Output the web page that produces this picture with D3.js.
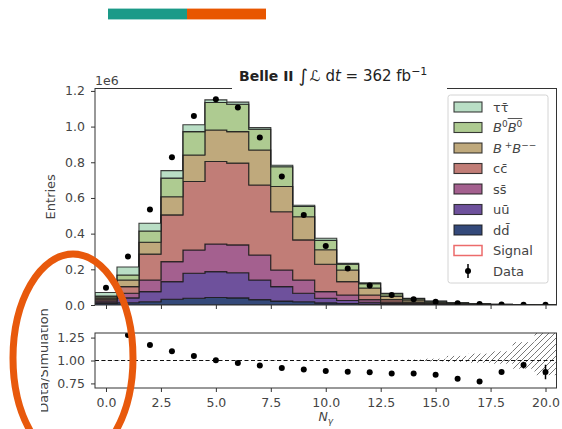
<!DOCTYPE html>
<html>
<head>
<meta charset="utf-8">
<script src="https://cdn.jsdelivr.net/npm/d3@7"></script>
<style>
  html, body { margin: 0; padding: 0; background: #fff; }
  svg { display: block; font-family: "DejaVu Sans", sans-serif; }
</style>
</head>
<body>
<svg id="chart" width="562" height="429"></svg>
<script>
// Photon multiplicity N_gamma, one bin per integer value
const nGamma = d3.range(0, 21);

// Simulated entries per component, in units of 1e6 (stacked bottom -> top)
const ddbar  = [0.008,0.013,0.018,0.032,0.038,0.042,0.040,0.030,0.022,0.018,0.012,0.008,0.005,0.003,0.002,0.001,0.0006,0.0003,0.0002,0.0001,0.00005];
const uubar  = [0.008,0.027,0.057,0.099,0.140,0.145,0.141,0.110,0.081,0.048,0.026,0.017,0.010,0.005,0.003,0.002,0.0010,0.0006,0.0003,0.0001,0.00005];
const ssbar  = [0.008,0.026,0.065,0.112,0.130,0.155,0.156,0.140,0.093,0.074,0.037,0.031,0.015,0.008,0.004,0.002,0.0014,0.0007,0.0004,0.0002,0.0001];
const ccbar  = [0.008,0.037,0.145,0.262,0.384,0.462,0.458,0.393,0.327,0.225,0.153,0.075,0.026,0.014,0.007,0.004,0.0020,0.0012,0.0007,0.0004,0.0002];
const bchg   = [0.008,0.037,0.067,0.102,0.149,0.177,0.177,0.196,0.141,0.130,0.082,0.065,0.039,0.020,0.012,0.007,0.0040,0.0022,0.0012,0.0006,0.0003];
const bneu   = [0.010,0.028,0.063,0.104,0.131,0.154,0.153,0.116,0.111,0.057,0.052,0.032,0.025,0.013,0.008,0.005,0.0035,0.0018,0.0011,0.0005,0.0004];
const tautau = [0.020,0.045,0.043,0.042,0.038,0.015,0.012,0.009,0.008,0.007,0.012,0.006,0.005,0.003,0.002,0.001,0.0005,0.0002,0.0001,0.0001,0.0001];

// Recorded data, in units of 1e6
const data = [0.097,0.272,0.535,0.828,1.060,1.153,1.107,0.939,0.720,0.504,0.331,0.205,0.109,0.0566,0.0326,0.0186,0.0104,0.0054,0.0035,0.0019,0.00105];
// Uncertainty on Data/Simulation
const ratioErr = [0.003,0.003,0.002,0.002,0.002,0.002,0.002,0.002,0.002,0.002,0.003,0.003,0.004,0.005,0.006,0.008,0.010,0.012,0.016,0.036,0.080];
// Simulation statistical band (relative), lower and upper edges
const bandLo = [0.998,0.998,0.998,0.998,0.998,0.998,0.998,0.998,0.998,0.998,0.998,0.997,0.996,0.995,0.993,0.99,0.985,0.975,0.965,0.91,0.84];
const bandHi = [1.002,1.002,1.002,1.002,1.002,1.002,1.002,1.002,1.002,1.002,1.002,1.003,1.004,1.006,1.010,1.02,1.050,1.075,1.100,1.20,1.32];

const componentKeys = ["dd", "uu", "ss", "cc", "bc", "bn", "tt"];
const componentValues = [ddbar, uubar, ssbar, ccbar, bchg, bneu, tautau];
const componentColors = ["#34497a", "#6e519c", "#a4608f", "#c17d77", "#bfa97c", "#aecb91", "#b9dec5"];

const xTicks = [0, 2.5, 5, 7.5, 10, 12.5, 15, 17.5, 20];
const yTicks = [0, 0.2, 0.4, 0.6, 0.8, 1.0, 1.2];
const rTicks = [0.75, 1.0, 1.25];

const svg = d3.select("#chart");
const X0 = 95, X1 = 556.5, MT = 88.5, MB = 305, RT = 333, RB = 388;

const x = d3.scaleLinear().domain([-0.5, 20.5]).range([X0, X1]);
const yMain = d3.scaleLinear().domain([0, 1.2135]).range([MB, MT]);
const yRat = d3.scaleLinear().domain([0.7, 1.3]).range([RB, RT]);

// header strip
svg.append("rect").attr("x", 108).attr("y", 8.6).attr("width", 79).attr("height", 10.8).attr("fill", "#1b9a88");
svg.append("rect").attr("x", 187).attr("y", 8.6).attr("width", 79).attr("height", 10.8).attr("fill", "#e85600");

const defs = svg.append("defs");
defs.append("clipPath").attr("id", "clipMain").append("rect")
  .attr("x", X0).attr("y", MT).attr("width", X1 - X0).attr("height", MB - MT);
defs.append("clipPath").attr("id", "clipRat").append("rect")
  .attr("x", X0).attr("y", RT).attr("width", X1 - X0).attr("height", RB - RT);
defs.append("clipPath").attr("id", "clipLab").append("rect")
  .attr("x", 41).attr("y", 280).attr("width", 60).attr("height", 149);
const pat = defs.append("pattern").attr("id", "hatch").attr("patternUnits", "userSpaceOnUse")
  .attr("width", 6).attr("height", 6);
pat.append("path").attr("d", "M-1,1 l2,-2 M0,6 l6,-6 M5,7 l2,-2")
  .attr("stroke", "#555").attr("stroke-width", 0.8);

// ---- stacked simulation ----
const rows = nGamma.map((n, i) => {
  const r = { n };
  componentKeys.forEach((k, j) => { r[k] = componentValues[j][i]; });
  return r;
});
const stacked = d3.stack().keys(componentKeys)(rows);
const total = rows.map((r, i) => stacked[stacked.length - 1][i][1]);

const area = d3.area()
  .curve(d3.curveStepAfter)
  .x(d => x(d.x))
  .y0(d => yMain(d.y0))
  .y1(d => yMain(d.y1));

const gMain = svg.append("g").attr("clip-path", "url(#clipMain)");
stacked.forEach((s, j) => {
  const pts = s.map((d, i) => ({ x: nGamma[i] - 0.5, y0: d[0], y1: d[1] }));
  const last = s[s.length - 1];
  pts.push({ x: nGamma[nGamma.length - 1] + 0.5, y0: last[0], y1: last[1] });
  gMain.append("path").attr("d", area(pts))
    .attr("fill", componentColors[j])
    .attr("stroke", "#1b1b1b").attr("stroke-opacity", 0.85)
    .attr("stroke-width", 1.1);
});

gMain.selectAll("circle.data").data(data).join("circle")
  .attr("cx", (d, i) => x(nGamma[i])).attr("cy", d => yMain(d))
  .attr("r", 3).attr("fill", "#000");

// frame
svg.append("rect").attr("x", X0).attr("y", MT).attr("width", X1 - X0).attr("height", MB - MT)
  .attr("fill", "none").attr("stroke", "#333").attr("stroke-width", 1);

// title box
svg.append("rect").attr("x", 232).attr("y", 60).attr("width", 215).attr("height", 31).attr("fill", "#fff");
const title = svg.append("text").attr("x", 239).attr("y", 81).attr("fill", "#222").style("font-size", "14px");
title.append("tspan").attr("font-weight", "bold").text("Belle II ");
title.append("tspan").style("font-size", "18px").attr("dy", 1).text("\u222B");
title.append("tspan").attr("font-style", "italic").attr("dy", -1).attr("dx", 2).style("font-size", "15px").text("\u2112");
title.append("tspan").style("font-size", "15px").text(" d");
title.append("tspan").attr("font-style", "italic").style("font-size", "15px").text("t");
title.append("tspan").style("font-size", "15px").text(" = 362 fb");
title.append("tspan").attr("dy", -6).style("font-size", "11px").text("\u22121");

// 1e6 offset label
svg.append("text").attr("x", 95).attr("y", 84.5).attr("fill", "#444").style("font-size", "12.5px").text("1e6");

// ---- legend ----
const legendLabels = ["tt", "b0", "bpm", "c\u0063\u0304", "s\u0073\u0304", "u\u016B", "d\u0064\u0304", "Signal", "Data"];
const lg = svg.append("g");
lg.append("rect").attr("x", 448).attr("y", 95).attr("width", 100).attr("height", 188)
  .attr("rx", 2.5).attr("fill", "#fff").attr("fill-opacity", 0.85)
  .attr("stroke", "#d4d4d4").attr("stroke-width", 1);
const legendColors = componentColors.slice().reverse();
legendLabels.forEach((lab, i) => {
  const cy = 107 + i * 20.5;
  if (i < 7) {
    lg.append("rect").attr("x", 454).attr("y", cy - 5).attr("width", 28).attr("height", 10)
      .attr("fill", legendColors[i]).attr("stroke", "#1b1b1b").attr("stroke-opacity", 0.85).attr("stroke-width", 1.1);
  } else if (i === 7) {
    lg.append("rect").attr("x", 454).attr("y", cy - 5).attr("width", 28).attr("height", 10)
      .attr("fill", "#fff").attr("stroke", "#ec6b6b").attr("stroke-width", 1.5);
  } else {
    lg.append("line").attr("x1", 468).attr("x2", 468).attr("y1", cy - 7).attr("y2", cy + 7)
      .attr("stroke", "#000").attr("stroke-width", 1.5);
    lg.append("circle").attr("cx", 468).attr("cy", cy).attr("r", 3).attr("fill", "#000");
  }
  const t = lg.append("text").attr("x", 493).attr("y", cy + 4.5).attr("fill", "#444").style("font-size", "13px");
  if (lab === "tt") {
    t.text("\u03C4\u03C4\u0304");
  } else if (lab === "b0") {
    t.append("tspan").attr("font-style", "italic").text("B");
    t.append("tspan").attr("dy", -5).style("font-size", "9px").text("0");
    t.append("tspan").attr("dy", 5).attr("font-style", "italic").text("B");
    t.append("tspan").attr("dy", -5).style("font-size", "9px").text("0");
    const a = t.node().getStartPositionOfChar(2).x;
    const b = t.node().getEndPositionOfChar(3).x;
    lg.append("line").attr("x1", a).attr("x2", b).attr("y1", cy - 9).attr("y2", cy - 9)
      .attr("stroke", "#444").attr("stroke-width", 0.9);
  } else if (lab === "bpm") {
    t.append("tspan").attr("font-style", "italic").text("B");
    t.append("tspan").attr("dy", -5).style("font-size", "9px").text(" +");
    t.append("tspan").attr("dy", 5).attr("font-style", "italic").text("B");
    t.append("tspan").attr("dy", -5).style("font-size", "9px").text("\u2212\u2212");
  } else {
    t.text(lab);
  }
});

// ---- axes ----
function styleAxis(g) {
  g.attr("font-size", null).attr("font-family", null);
  g.select(".domain").remove();
  g.selectAll(".tick line").attr("stroke", "#333").attr("stroke-width", 1);
  g.selectAll(".tick text").attr("fill", "#444").style("font-size", "12.5px");
}
svg.append("g").attr("transform", `translate(0,${MB})`)
  .call(d3.axisBottom(x).tickValues(xTicks).tickSize(4).tickFormat(""))
  .call(styleAxis);
svg.append("g").attr("transform", `translate(${X0},0)`)
  .call(d3.axisLeft(yMain).tickValues(yTicks).tickSize(4).tickPadding(6).tickFormat(d3.format(".1f")))
  .call(styleAxis);

svg.append("text").attr("transform", `translate(55,${(MT + MB) / 2}) rotate(-90)`)
  .attr("text-anchor", "middle").attr("fill", "#444").style("font-size", "13px").text("Entries");

// ---- ratio panel ----
const gRat = svg.append("g").attr("clip-path", "url(#clipRat)");
gRat.selectAll("rect.band").data(nGamma).join("rect")
  .attr("x", n => x(n - 0.5)).attr("width", n => x(n + 0.5) - x(n - 0.5))
  .attr("y", (n, i) => yRat(bandHi[i])).attr("height", (n, i) => yRat(bandLo[i]) - yRat(bandHi[i]))
  .attr("fill", "url(#hatch)");
gRat.append("line").attr("x1", X0).attr("x2", X1).attr("y1", yRat(1)).attr("y2", yRat(1))
  .attr("stroke", "#111").attr("stroke-width", 1).attr("stroke-dasharray", "4,2.5");
const ratio = data.map((d, i) => d / total[i]);
gRat.selectAll("line.err").data(ratio).join("line")
  .attr("x1", (r, i) => x(nGamma[i])).attr("x2", (r, i) => x(nGamma[i]))
  .attr("y1", (r, i) => yRat(r - ratioErr[i])).attr("y2", (r, i) => yRat(r + ratioErr[i]))
  .attr("stroke", "#000").attr("stroke-width", 1.5);
gRat.selectAll("circle.rat").data(ratio).join("circle")
  .attr("cx", (r, i) => x(nGamma[i])).attr("cy", r => yRat(r))
  .attr("r", 3).attr("fill", "#000");

svg.append("rect").attr("x", X0).attr("y", RT).attr("width", X1 - X0).attr("height", RB - RT)
  .attr("fill", "none").attr("stroke", "#333").attr("stroke-width", 1);

svg.append("g").attr("transform", `translate(0,${RB})`)
  .call(d3.axisBottom(x).tickValues(xTicks).tickSize(4).tickPadding(6).tickFormat(d3.format(".1f")))
  .call(styleAxis);
svg.append("g").attr("transform", `translate(${X0},0)`)
  .call(d3.axisLeft(yRat).tickValues(rTicks).tickSize(4).tickPadding(6).tickFormat(d3.format(".2f")))
  .call(styleAxis);

svg.append("g").attr("clip-path", "url(#clipLab)")
  .append("text").attr("transform", `translate(48,${(RT + RB) / 2}) rotate(-90)`)
  .attr("text-anchor", "middle").attr("fill", "#444").style("font-size", "13px").text("Data/Simulation");

const xl = svg.append("text").attr("x", (X0 + X1) / 2).attr("y", 421).attr("text-anchor", "middle")
  .attr("fill", "#444").style("font-size", "12.5px");
xl.append("tspan").attr("font-style", "italic").text("N");
xl.append("tspan").attr("dy", 3).style("font-size", "9px").attr("font-style", "italic").text("\u03B3");

// highlight ellipse
svg.append("ellipse").attr("cx", 73).attr("cy", 358).attr("rx", 60).attr("ry", 104)
  .attr("fill", "none").attr("stroke", "#e8590c").attr("stroke-width", 7);
</script>
</body>
</html>
